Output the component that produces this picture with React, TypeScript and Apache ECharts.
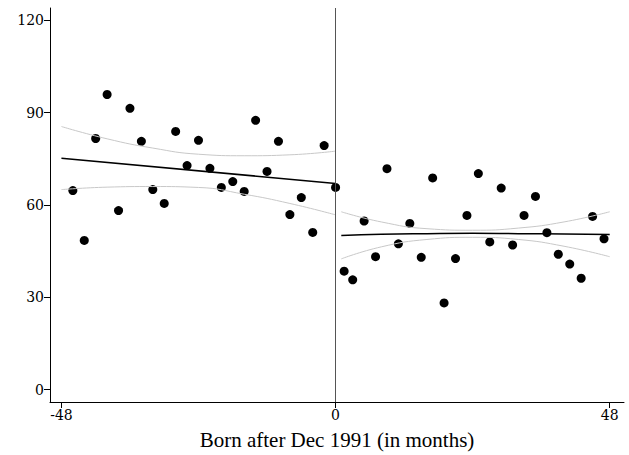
import React, { useEffect, useRef } from "react";
import * as echarts from "echarts";

const leftX = [-46,-44,-42,-40,-38,-36,-34,-32,-30,-28,-26,-24,-22,-20,-18,-16,-14,-12,-10,-8,-6,-4,-2,0];
const leftY = [64.7,48.5,81.6,95.9,58.2,91.4,80.7,65,60.5,83.9,72.8,81,71.9,65.7,67.6,64.4,87.5,70.9,80.7,56.9,62.4,51.1,79.3,65.7];
const rightX = [1.5,3,5,7,9,11,13,15,17,19,21,23,25,27,29,31,33,35,37,39,41,43,45,47];
const rightY = [38.5,35.7,54.8,43.2,71.8,47.4,54,43,68.8,28.2,42.6,56.6,70.2,48,65.5,47,56.6,62.8,51,44,40.8,36.2,56.3,49];
const fitLeftX = [-48,0];
const fitLeftY = [75.2,67];
const fitRightX = [1,8,16,24,32,40,48];
const fitRightY = [50.1,50.5,50.7,50.8,50.7,50.6,50.4];
const ciLeftX = [-48,-40,-32,-24,-16,-8,0];
const ciLeftUp = [85.5,81.5,78.5,76.5,76,76.3,77.5];
const ciLeftLo = [65,65.8,66,65.7,63.5,60.5,56.8];
const ciRightX = [1,8,16,24,32,40,48];
const ciRightUp = [57.8,54.5,52.3,51.8,52.5,54.5,57.8];
const ciRightLo = [42.5,46.4,48.8,49.5,48.8,46.6,43.2];
const xTicks = [-48,0,48];
const yTicks = [0,30,60,90,120];

const zip = (xs: number[], ys: number[]) => xs.map((x, i) => [x, ys[i]]);
const font = "DejaVu Serif";

export default function App() {
  const ref = useRef<HTMLDivElement>(null);
  useEffect(() => {
    const chart = echarts.init(ref.current!, null, { renderer: "svg" });
    const line = (data: number[][], color: string, width: number) => ({
      type: "line", data, symbol: "none", smooth: true, silent: true,
      lineStyle: { color, width },
    });
    chart.setOption({
      animation: false,
      backgroundColor: "#fff",
      grid: { left: 50, right: 5, top: 8, height: 394, outerBoundsMode: "none", containLabel: false },
      xAxis: {
        type: "value", min: -50, max: 50.5,
        name: "Born after Dec 1991 (in months)", nameLocation: "middle", nameGap: 27,
        nameTextStyle: { fontFamily: "Liberation Serif", fontSize: 21, color: "#000" },
        axisLine: { onZero: false, lineStyle: { color: "#000" } },
        axisTick: { customValues: xTicks, length: 6, lineStyle: { color: "#000" } },
        axisLabel: { customValues: xTicks, fontFamily: font, fontSize: 14, color: "#000", margin: 6 },
        splitLine: { show: false },
      },
      yAxis: {
        type: "value", min: -4, max: 124,
        axisLine: { show: true, onZero: false, lineStyle: { color: "#000" } },
        axisTick: { show: true, customValues: yTicks, length: 6, lineStyle: { color: "#000" } },
        axisLabel: { customValues: yTicks, fontFamily: font, fontSize: 14, color: "#000", margin: 6 },
        splitLine: { show: false },
      },
      series: [
        line(zip(ciLeftX, ciLeftUp), "#c8c8c8", 1),
        line(zip(ciLeftX, ciLeftLo), "#c8c8c8", 1),
        line(zip(ciRightX, ciRightUp), "#c8c8c8", 1),
        line(zip(ciRightX, ciRightLo), "#c8c8c8", 1),
        line(zip(fitLeftX, fitLeftY), "#000", 1.5),
        line(zip(fitRightX, fitRightY), "#000", 1.5),
        {
          type: "scatter", data: zip(leftX, leftY).concat(zip(rightX, rightY)),
          symbolSize: 9, itemStyle: { color: "#000", opacity: 1 },
          markLine: {
            silent: true, symbol: "none", label: { show: false },
            lineStyle: { color: "#555", width: 1, type: "solid" },
            data: [{ xAxis: 0 }],
          },
        },
      ],
    });
    return () => chart.dispose();
  }, []);
  return <div ref={ref} style={{ width: 629, height: 455, position: "absolute", left: 0, top: 0 }} />;
}
